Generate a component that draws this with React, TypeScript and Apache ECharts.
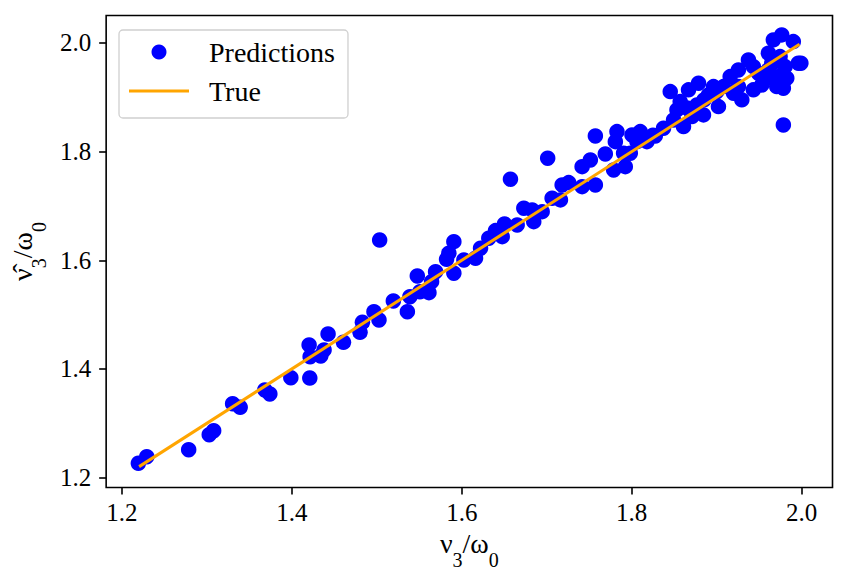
import React, { useEffect, useRef } from "react";
import * as echarts from "echarts";

const predX = [
  1.2195, 1.2294, 1.2787, 1.3029, 1.3081, 1.3304, 1.3393, 1.3683, 1.3742, 1.3989,
  1.4204, 1.4212, 1.4216, 1.4341, 1.438, 1.4427, 1.4608, 1.4803, 1.4831, 1.4967,
  1.5026, 1.5034, 1.5195, 1.536, 1.539, 1.5477, 1.5508, 1.5614, 1.5645, 1.5692,
  1.5821, 1.5848, 1.5907, 1.5907, 1.6025, 1.6162, 1.6221, 1.6318, 1.6397, 1.6476,
  1.6503, 1.6573, 1.6652, 1.673, 1.6828, 1.6847, 1.6946, 1.7011, 1.7063, 1.7161,
  1.7181, 1.7258, 1.7416, 1.7416, 1.7513, 1.7572, 1.7572, 1.7689, 1.7787, 1.7807,
  1.7826, 1.7904, 1.7924, 1.7983, 1.8003, 1.8062, 1.81, 1.8179, 1.8277, 1.8374,
  1.8453, 1.8492, 1.8532, 1.857, 1.8609, 1.8668, 1.8708, 1.8767, 1.8786, 1.8844,
  1.8903, 1.8962, 1.902, 1.9079, 1.9158, 1.9197, 1.9255, 1.9295, 1.9373, 1.9431,
  1.9431, 1.953, 1.9589, 1.9608, 1.9647, 1.9666, 1.9706, 1.9745, 1.9765, 1.9784,
  1.9784, 1.9804, 1.9824, 1.9901, 1.996, 1.999,
  1.9608, 1.9726, 1.9686, 1.949, 1.9255, 1.9, 1.885, 1.865, 1.825,
];
const predY = [
  1.2265, 1.2386, 1.2515, 1.2791, 1.2865, 1.3362, 1.3295, 1.3614, 1.354, 1.384,
  1.4442, 1.3834, 1.4226, 1.4239, 1.435, 1.4644, 1.4491, 1.4675, 1.4859, 1.5054,
  1.4902, 1.6371, 1.5251, 1.5054, 1.533, 1.5711, 1.5422, 1.5404, 1.5606, 1.579,
  1.6018, 1.6129, 1.5761, 1.6342, 1.6006, 1.6037, 1.6221, 1.6405, 1.6545, 1.6434,
  1.6668, 1.7491, 1.665, 1.6957, 1.6926, 1.671, 1.6894, 1.7877, 1.7141, 1.711,
  1.7385, 1.7428, 1.7722, 1.7354, 1.7845, 1.7385, 1.8287, 1.7956, 1.7661, 1.8182,
  1.8366, 1.7969, 1.7722, 1.7969, 1.8305, 1.8182, 1.8366, 1.8182, 1.8287, 1.8429,
  1.9102, 1.8581, 1.8766, 1.8918, 1.8458, 1.9134, 1.8642, 1.8857, 1.9257, 1.8674,
  1.9042, 1.9194, 1.8826, 1.9194, 1.9378, 1.9073, 1.9501, 1.895, 1.9685, 1.9562,
  1.9134, 1.9225, 1.9348, 1.9808, 1.9624, 2.0053, 1.9194, 1.9746, 2.0145, 1.9165,
  1.8489, 1.9562, 1.9348, 2.0022, 1.9624, 1.9624,
  1.9501, 1.9378, 1.9655, 1.944, 1.9194, 1.91, 1.895, 1.88, 1.83,
];
const trueX = [1.2204, 1.9974];
const tickValues = [1.2, 1.4, 1.6, 1.8, 2.0];
const seriesNames = ["Predictions", "True"];

const FONT = "Times New Roman, Liberation Serif, Times, serif";

export default function App() {
  const ref = useRef<HTMLDivElement>(null);
  useEffect(() => {
    if (!ref.current) return;
    const chart = echarts.init(ref.current, null, { renderer: "svg" });
    const scatterData = predX.map((x, i) => [x, predY[i]]);
    const lineData = trueX.map((x) => [x, x]);
    const tickFmt = (v: number) => v.toFixed(1);
    const subRich = {
      a: { fontSize: 28, fontFamily: FONT, color: "#000", lineHeight: 38, verticalAlign: "top" },
      s: { fontSize: 20, fontFamily: FONT, color: "#000", lineHeight: 20, padding: [21, 0, 0, 0], verticalAlign: "top" },
    };
    chart.setOption({
      animation: false,
      backgroundColor: "#fff",
      textStyle: { fontFamily: FONT },
      grid: {
        left: 105,
        right: 15.5,
        top: 15.5,
        bottom: 96.5,
        show: true,
        borderColor: "#000",
        borderWidth: 1.6,
        backgroundColor: "transparent",
      },
      legend: {
        data: [
          { name: seriesNames[0], icon: "circle" },
          { name: seriesNames[1], icon: "path://M0,0H60V3H0Z", itemStyle: { color: "#ffa500" } },
        ],
        orient: "vertical",
        left: 119,
        top: 30,
        padding: [6, 13, 11, 10],
        itemWidth: 60,
        itemHeight: 15,
        itemGap: 7,
        symbolKeepAspect: true,
        borderColor: "#d0d0d0",
        borderWidth: 1.3,
        borderRadius: 4,
        backgroundColor: "rgba(255,255,255,0.8)",
        selectedMode: false,
        textStyle: { fontSize: 28, fontFamily: FONT, color: "#000", lineHeight: 32, padding: [0, 0, 0, 15] },
      },
      xAxis: {
        type: "value",
        min: 1.1816,
        max: 2.0362,
        name: "{a|ν}{s|3}{a|/ω}{s|0}",
        nameLocation: "middle",
        nameGap: 41,
        nameTextStyle: { rich: subRich, fontFamily: FONT },
        axisLine: { show: false },
        splitLine: { show: false },
        axisTick: { show: true, length: 7, lineStyle: { color: "#000", width: 1.6 }, customValues: tickValues },
        axisLabel: {
          customValues: tickValues,
          formatter: tickFmt,
          fontSize: 25,
          fontFamily: FONT,
          color: "#000",
          margin: 12,
        },
      },
      yAxis: {
        type: "value",
        min: 1.182,
        max: 2.0502,
        name: "{a|ν̂}{s|3}{a|/ω}{s|0}",
        nameLocation: "middle",
        nameGap: 56,
        nameTextStyle: { rich: subRich, fontFamily: FONT },
        axisLine: { show: false },
        splitLine: { show: false },
        axisTick: { show: true, length: 7, lineStyle: { color: "#000", width: 1.6 }, customValues: tickValues },
        axisLabel: {
          customValues: tickValues,
          formatter: tickFmt,
          fontSize: 25,
          fontFamily: FONT,
          color: "#000",
          margin: 15,
        },
      },
      series: [
        {
          name: seriesNames[0],
          type: "scatter",
          data: scatterData,
          symbol: "circle",
          symbolSize: 15.5,
          itemStyle: { color: "#0000ff", opacity: 1 },
          silent: true,
        },
        {
          name: seriesNames[1],
          type: "line",
          data: lineData,
          symbol: "none",
          showSymbol: false,
          lineStyle: { color: "#ffa500", width: 3 },
          itemStyle: { color: "#ffa500" },
          silent: true,
        },
      ],
    });
    return () => chart.dispose();
  }, []);
  return (
    <div
      ref={ref}
      style={{ position: "absolute", left: 0, top: 0, width: 848, height: 584 }}
    />
  );
}
